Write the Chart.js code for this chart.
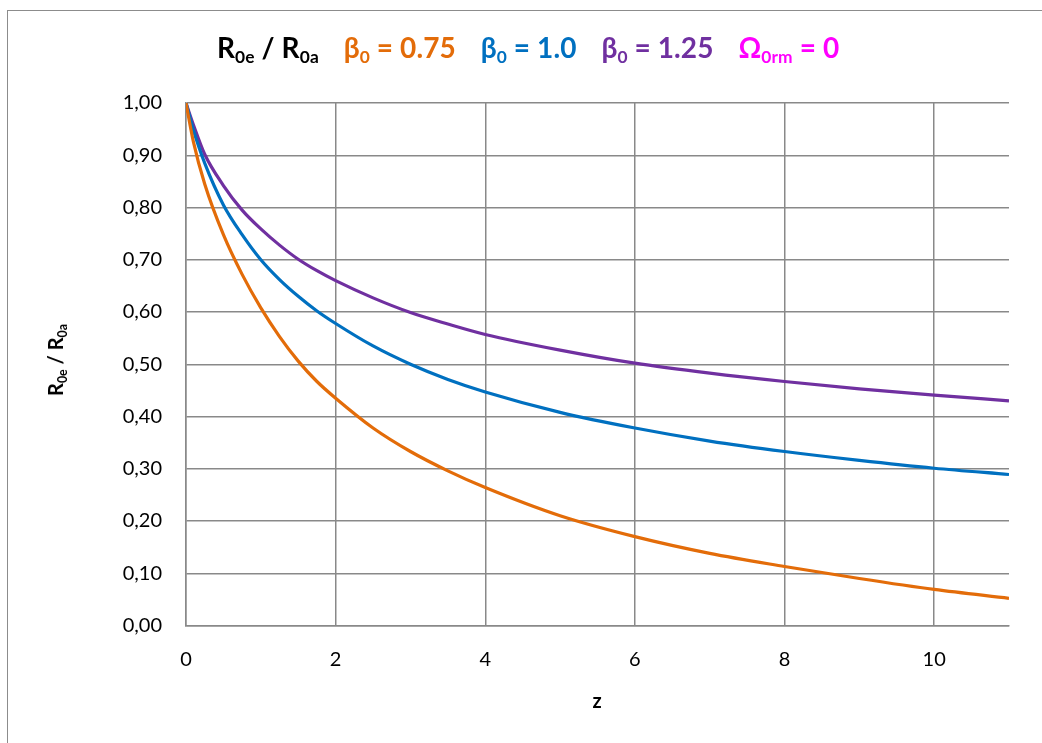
<!DOCTYPE html>
<html>
<head>
<meta charset="utf-8">
<script src="https://cdn.jsdelivr.net/npm/chart.js@4.4.1/dist/chart.umd.min.js"></script>
<style>
  body { margin: 0; background: #fff; font-family: Lato, "Open Sans", sans-serif; }
  #wrap { position: relative; width: 1042px; height: 743px; overflow: hidden; }
  #frame { position: absolute; left: 7px; top: 10px; width: 1100px; height: 800px;
           border-left: 1.5px solid #8c8c8c; border-top: 1.5px solid #8c8c8c; }
  canvas { position: absolute; left: 0; top: 0; }
  .ttl { position: absolute; font-weight: bold; white-space: nowrap; }
  .ttl sub { font-size: 0.62em; vertical-align: -0.3em; line-height: 0; }
  #title { left: 217px; top: 30px; font-size: 28px; letter-spacing: 0.1px; }
  #title span { margin-right: 18px; }
  #ytitle { left: 55px; top: 360px; font-size: 20px; transform: translate(-50%, -50%) rotate(-90deg); }
  #xtitle { left: 597px; top: 700px; font-size: 20px; transform: translate(-50%, -50%); }
</style>
</head>
<body>
<div id="wrap">
  <div id="frame"></div>
  <canvas id="chart" width="1042" height="743"></canvas>
  <div id="title" class="ttl">
    <span style="color:#000">R<sub>0e</sub> / R<sub>0a</sub></span>
    <span style="color:#e36c09">β<sub>0</sub> = 0.75</span>
    <span style="color:#0070c0">β<sub>0</sub> = 1.0</span>
    <span style="color:#7030a0">β<sub>0</sub> = 1.25</span>
    <span style="color:#ff00ff;margin-right:0">Ω<sub>0rm</sub> = 0</span>
  </div>
  <div id="ytitle" class="ttl">R<sub>0e</sub> / R<sub>0a</sub></div>
  <div id="xtitle" class="ttl">z</div>
</div>
<script>
// values
const zValues = [0, 0.1, 0.25, 0.5, 0.75, 1, 1.25, 1.5, 1.75, 2, 2.5, 3, 3.5, 4, 5, 6, 7, 8, 9, 10, 11];
const beta075 = [1.00, 0.925, 0.845, 0.748, 0.672, 0.608, 0.553, 0.506, 0.467, 0.435, 0.378, 0.333, 0.296, 0.264, 0.210, 0.170, 0.138, 0.113, 0.090, 0.069, 0.052];
const beta100 = [1.00, 0.948, 0.885, 0.805, 0.748, 0.700, 0.662, 0.630, 0.602, 0.578, 0.535, 0.500, 0.471, 0.447, 0.408, 0.378, 0.353, 0.333, 0.316, 0.301, 0.289];
const beta125 = [1.00, 0.958, 0.902, 0.842, 0.795, 0.759, 0.728, 0.701, 0.679, 0.660, 0.627, 0.599, 0.577, 0.557, 0.527, 0.502, 0.483, 0.467, 0.453, 0.441, 0.430];
const xTicks = [0, 2, 4, 6, 8, 10];

const seriesColors = ['#e36c09', '#0070c0', '#7030a0'];
const gridGray = '#898989';

function toPoints(ys) {
  return zValues.map((z, i) => ({ x: z, y: ys[i] }));
}

const datasets = [beta075, beta100, beta125].map((ys, i) => ({
  data: toPoints(ys),
  borderColor: seriesColors[i],
  borderWidth: 3.2,
  pointRadius: 0,
  fill: false,
  cubicInterpolationMode: 'monotone'
}));

new Chart(document.getElementById('chart'), {
  type: 'line',
  data: { datasets },
  options: {
    responsive: false,
    animation: false,
    layout: { padding: { top: 103, right: 33, left: 0, bottom: 0 } },
    plugins: { legend: { display: false }, tooltip: { enabled: false } },
    scales: {
      x: {
        type: 'linear',
        min: 0, max: 11,
        afterBuildTicks: s => { s.ticks = xTicks.map(v => ({ value: v })); },
        afterFit: s => { s.height = 117.5; },
        grid: { color: gridGray, lineWidth: 1.5, drawTicks: false },
        border: { color: gridGray, width: 1.5 },
        ticks: { color: '#000', padding: 22, font: { family: 'Lato', size: 20 } }
      },
      y: {
        min: 0, max: 1,
        afterFit: s => { s.width = 186; },
        grid: { color: gridGray, lineWidth: 1.5, drawTicks: false },
        border: { color: gridGray, width: 1.5 },
        ticks: {
          stepSize: 0.1, color: '#000', padding: 24,
          font: { family: 'Lato', size: 20 },
          callback: v => v.toFixed(2).replace('.', ',')
        }
      }
    }
  }
});
</script>
</body>
</html>
